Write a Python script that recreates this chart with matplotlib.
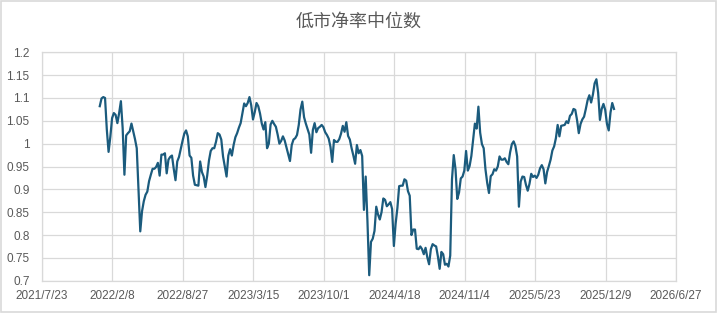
import pandas as pd
import numpy as np
import matplotlib
matplotlib.use("Agg")
import matplotlib.pyplot as plt
import matplotlib.dates as mdates
from matplotlib.patches import Rectangle

plt.rcParams['font.family'] = ['Liberation Sans', 'Noto Sans CJK SC', 'DejaVu Sans']

# **1. Data: median P/B of low-PB stocks, read every 5 days from the chart**
start_date = "2022-01-03"
step = "5D"

pb_2022 = [1.082, 1.099, 1.102, 1.100, 1.031, 0.982, 1.015, 1.056, 1.067, 1.063,
           1.045, 1.067, 1.093, 1.034, 0.932, 1.018, 1.023, 1.027, 1.044, 1.027,
           1.010, 0.990, 0.900, 0.808, 0.852, 0.874, 0.888, 0.895, 0.918, 0.932,
           0.945, 0.945, 0.949, 0.958, 0.930, 0.976, 0.976, 0.979, 0.935, 0.965,
           0.971, 0.974, 0.945, 0.920, 0.961, 0.971, 0.989, 1.006, 1.022, 1.029,
           1.016, 0.974, 0.969, 0.930, 0.910, 0.909, 0.908,
           0.961, 0.938, 0.928, 0.905, 0.930, 0.963, 0.984, 0.990, 0.990, 1.004,
           1.023, 1.020, 1.009, 0.972, 0.950, 0.928]

pb_2023 = [0.974, 0.988, 0.974, 0.997,
           1.014, 1.023, 1.035, 1.045, 1.067, 1.088, 1.082, 1.089, 1.102, 1.084,
           1.053, 1.069, 1.089, 1.082, 1.066, 1.044, 1.031, 1.047, 0.990, 1.000,
           1.042, 1.050, 1.043, 1.037, 1.020, 1.000, 1.006, 1.016, 1.007, 0.992,
           0.977, 0.962, 0.997, 1.009, 1.012, 1.019, 1.041, 1.075, 1.092, 1.058,
           1.044, 1.032, 1.020, 0.980, 1.030, 1.045, 1.025, 1.034, 1.037, 1.041,
           1.036, 1.025, 1.019, 1.011, 0.993, 0.960, 1.008, 1.004, 1.004, 1.010,
           1.022, 1.039, 1.026, 1.047, 1.017, 1.009, 0.990, 0.974, 0.956]

pb_2024 = [0.997,
           0.979, 0.986, 0.973, 0.855, 0.928, 0.830, 0.712, 0.785, 0.792, 0.809,
           0.862, 0.845, 0.834, 0.850, 0.880, 0.877, 0.863, 0.867, 0.872, 0.857,
           0.776, 0.825, 0.859, 0.907, 0.908, 0.908, 0.922, 0.919, 0.896,
           0.886, 0.800, 0.812, 0.812, 0.770, 0.769, 0.775, 0.769, 0.758, 0.772,
           0.751, 0.736, 0.769, 0.780, 0.777, 0.775, 0.753, 0.726, 0.763, 0.758,
           0.735, 0.737, 0.731, 0.755, 0.922, 0.975, 0.944, 0.879, 0.893, 0.924,
           0.928, 0.941, 0.984, 0.941, 0.951, 0.973, 1.008, 1.044, 1.033, 1.081,
           1.024, 0.999, 0.990]

pb_2025 = [0.944, 0.914, 0.892, 0.929, 0.933, 0.944, 0.941,
           0.950, 0.972, 0.965, 0.965, 0.968, 0.960, 0.955, 0.981, 0.999, 1.005,
           0.995, 0.972, 0.862, 0.917, 0.928, 0.927, 0.910, 0.897, 0.912, 0.934,
           0.927, 0.930, 0.925, 0.932, 0.946, 0.953, 0.944, 0.913, 0.938, 0.951,
           0.965, 0.985, 0.994, 1.012, 1.041, 1.016, 1.039, 1.040, 1.041, 1.049,
           1.045, 1.061, 1.065, 1.076, 1.074, 1.052, 1.023, 1.043, 1.053, 1.059,
           1.076, 1.095, 1.106, 1.090, 1.107, 1.132, 1.141, 1.111, 1.052, 1.076,
           1.087, 1.074, 1.043, 1.029, 1.068, 1.089, 1.076]

pb_values = pb_2022 + pb_2023 + pb_2024 + pb_2025
dates = pd.date_range(start_date, periods=len(pb_values), freq=step)

# axis ticks as shown in the chart
x_tick_dates = pd.date_range("2021-07-23", periods=10, freq="200D")
y_ticks = [0.7, 0.75, 0.8, 0.85, 0.9, 0.95, 1.0, 1.05, 1.1, 1.15, 1.2]

title = "低市净率中位数"

# **2. Plot**
grid_color = '#D9D9D9'
text_color = '#595959'
line_color = '#1B5B7D'

fig = plt.figure(figsize=(7.17, 3.13), dpi=100)
ax = fig.add_axes([42 / 717, 1 - 280.7 / 313, 634 / 717, 228.4 / 313])

ax.plot(dates, pb_values, color=line_color, linewidth=1.6, solid_joinstyle='round')

ax.set_xlim(x_tick_dates[0], x_tick_dates[-1])
ax.set_ylim(0.7, 1.2)
ax.set_xticks(x_tick_dates)
ax.set_xticklabels([f"{d.year}/{d.month}/{d.day}" for d in x_tick_dates])
ax.set_yticks(y_ticks)
ax.set_yticklabels([f"{v:g}" for v in y_ticks])

ax.grid(True, color=grid_color, linewidth=0.9)
ax.set_axisbelow(True)
for side in ['top', 'right', 'left', 'bottom']:
    ax.spines[side].set_color(grid_color)
    ax.spines[side].set_linewidth(0.9)
ax.tick_params(length=0, labelsize=8.5, labelcolor=text_color)
ax.tick_params(axis='x', pad=7)
ax.tick_params(axis='y', pad=9)

fig.text(0.5, 1 - 22 / 313, title, ha='center', va='center', fontsize=13,
         color=text_color, family=['Noto Sans CJK SC', 'DejaVu Sans'])

# light frame round the whole chart
fig.patches.append(Rectangle((0.001, 0.002), 0.997, 0.995, transform=fig.transFigure,
                             fill=False, edgecolor=grid_color, linewidth=1.2))

fig.savefig("out.png", dpi=100)
